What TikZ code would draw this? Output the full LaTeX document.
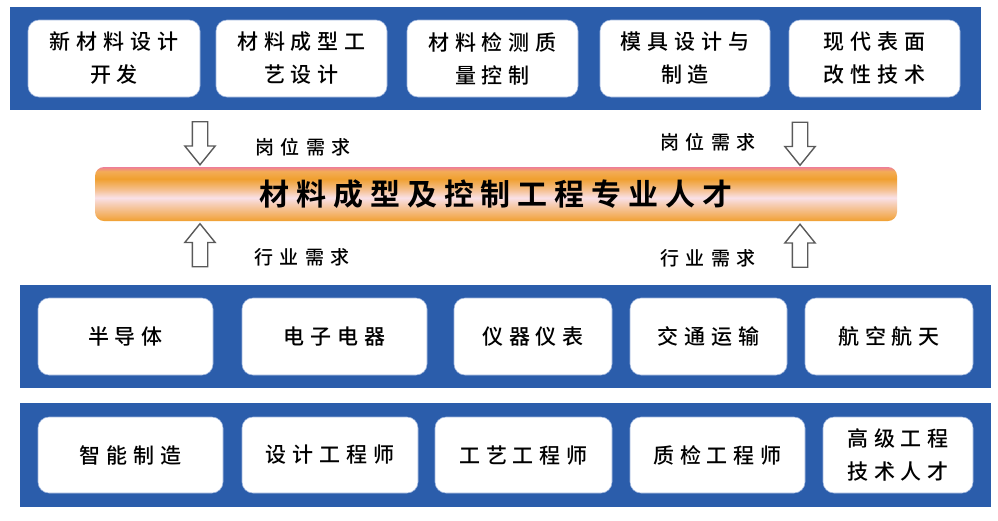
\documentclass[tikz,border=0pt]{standalone}
\usepackage{fontspec}
\setmainfont{Noto Sans CJK SC}
\newfontfamily\cjkfont[BoldFont={Noto Sans CJK SC Bold}]{Noto Sans CJK SC Medium}
\usetikzlibrary{shapes.arrows}
\newcommand{\boxfont}{\cjkfont\fontsize{21}{33}\selectfont\addfontfeature{LetterSpace=28}}
\newcommand{\needfont}{\cjkfont\fontsize{19}{24}\selectfont\addfontfeature{LetterSpace=33}}
\newcommand{\barfont}{\cjkfont\bfseries\fontsize{30}{36}\selectfont\addfontfeature{LetterSpace=23}}
\definecolor{barorange}{HTML}{F0A030}
\definecolor{barlight}{HTML}{F3AC56}
\definecolor{barpeach}{HTML}{F6CCB0}
\definecolor{barwhite}{HTML}{F9E1E8}
\definecolor{barmid}{HTML}{F5C090}
\definecolor{barred}{HTML}{EE7E98}
% the path covers 25bp..75bp of the shading
\pgfdeclareverticalshading{talentshade}{100bp}{color(0bp)=(barorange); color(25bp)=(barorange); color(29bp)=(barlight); color(40bp)=(barpeach); color(46.5bp)=(barwhite); color(54bp)=(barmid); color(64bp)=(barorange); color(71bp)=(barlight); color(75bp)=(barred); color(100bp)=(barred)}

\begin{document}
\begin{tikzpicture}[x=1pt,y=-1pt,
		band/.style={fill=bandblue,draw=none},
		itembox/.style={draw=boxline,line width=0.6pt,fill=white,rounded corners=11pt,align=center,font=\boxfont},
		talentbar/.style={rounded corners=9pt,shading=talentshade,draw=none,font=\barfont},
		needarrow/.style={single arrow,draw=arrowgray,line width=1.4pt,fill=white,minimum height=43,minimum width=29,single arrow head extend=7.5pt,single arrow tip angle=78,inner sep=7pt},
		needlabel/.style={font=\needfont,inner sep=0pt}]
	\definecolor{bandblue}{HTML}{2B5DAB}
	\definecolor{boxline}{HTML}{9DB4DC}
	\definecolor{arrowgray}{HTML}{5A5A5A}
	\useasboundingbox (0,0) rectangle (998,520);
	\fill[white] (0,0) rectangle (998,520);
	
	% bands
	\draw[band] (10,7) rectangle (981,110);
	\draw[band] (20,285) rectangle (991,388);
	\draw[band] (20,403) rectangle (991,507);
	
	% top row: jobs
	\node[itembox,minimum width=172,minimum height=77] (job1) at (114,58.5) {新材料设计\\开发};
	\node[itembox,minimum width=171,minimum height=77] (job2) at (301.5,58.5) {材料成型工\\艺设计};
	\node[itembox,minimum width=171,minimum height=77] (job3) at (492.5,58.5) {材料检测质\\量控制};
	\node[itembox,minimum width=170,minimum height=77] (job4) at (685,58.5) {模具设计与\\制造};
	\node[itembox,minimum width=171,minimum height=77] (job5) at (874.5,58.5) {现代表面\\改性技术};
	
	% talent bar
	\node[talentbar,minimum width=802,minimum height=54] (talent) at (496,194) {材料成型及控制工程专业人才};
	
	% arrows and labels
	\node[needarrow,shape border rotate=270] (postL) at (200,138.5) {};
	\node[needarrow,shape border rotate=270] (postR) at (800,139) {};
	\node[needarrow,shape border rotate=90] (tradeL) at (200,250) {};
	\node[needarrow,shape border rotate=90] (tradeR) at (800,250.5) {};
	\node[needlabel] (postLtext) at (303,147) {岗位需求};
	\node[needlabel] (postRtext) at (708,142) {岗位需求};
	\node[needlabel] (tradeLtext) at (302,257) {行业需求};
	\node[needlabel] (tradeRtext) at (708,258) {行业需求};
	
	% middle row: industries
	\node[itembox,minimum width=175,minimum height=77] (ind1) at (125.5,336.5) {半导体};
	\node[itembox,minimum width=185,minimum height=77] (ind2) at (334.5,336.5) {电子电器};
	\node[itembox,minimum width=158,minimum height=77] (ind3) at (533,336.5) {仪器仪表};
	\node[itembox,minimum width=157,minimum height=77] (ind4) at (708.5,336.5) {交通运输};
	\node[itembox,minimum width=168,minimum height=77] (ind5) at (889,336.5) {航空航天};
	
	% bottom row: positions
	\node[itembox,minimum width=185,minimum height=76] (pos1) at (130.5,455) {智能制造};
	\node[itembox,minimum width=176,minimum height=76] (pos2) at (330,455) {设计工程师};
	\node[itembox,minimum width=177,minimum height=76] (pos3) at (523.5,455) {工艺工程师};
	\node[itembox,minimum width=175,minimum height=76] (pos4) at (717.5,455) {质检工程师};
	\node[itembox,minimum width=150,minimum height=76] (pos5) at (898,455) {高级工程\\技术人才};
\end{tikzpicture}
\end{document}
